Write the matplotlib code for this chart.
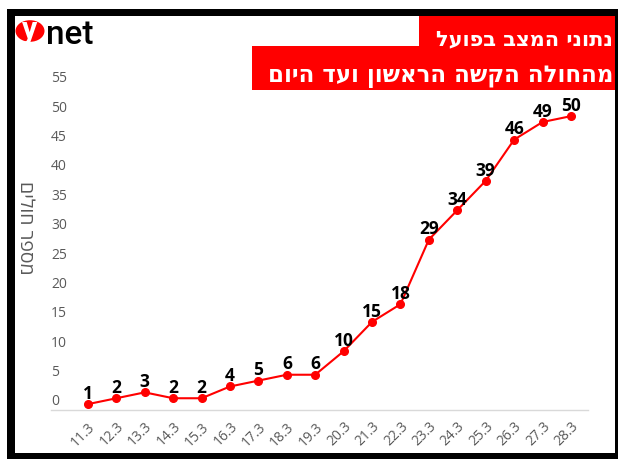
import matplotlib
matplotlib.use('Agg')
import matplotlib.pyplot as plt
from matplotlib.patches import Rectangle, Circle
from matplotlib.transforms import ScaledTranslation

dates = ['11.3', '12.3', '13.3', '14.3', '15.3', '16.3', '17.3', '18.3', '19.3',
         '20.3', '21.3', '22.3', '23.3', '24.3', '25.3', '26.3', '27.3', '28.3']
patients = [1, 2, 3, 2, 2, 4, 5, 6, 6, 10, 15, 18, 29, 34, 39, 46, 49, 50]
yticks = list(range(0, 56, 5))

title1 = 'נתוני המצב בפועל'
title2 = 'מהחולה הקשה הראשון ועד היום'
ylabel = 'מספר חולים'

W, H = 618, 460
fig = plt.figure(figsize=(W / 100, H / 100), dpi=100)

def box(x0, y0, x1, y1, color):
    # pixel coords, y from top
    fig.add_artist(Rectangle((x0 / W, 1 - y1 / H), (x1 - x0) / W, (y1 - y0) / H,
                             transform=fig.transFigure, color=color, lw=0))

ax = fig.add_axes([51 / W, (H - 411) / H, (588 - 51) / W, 335 / H])
x = list(range(len(dates)))
ax.plot(x, patients, color='#ff0000', lw=1.5, marker='o', ms=5.5, zorder=3)
for xi, v in zip(x, patients):
    ax.annotate(str(v), (xi, v), xytext=(0, 4.5), textcoords='offset points',
                ha='center', va='baseline', fontsize=12.5, fontweight='bold',
                family=['Open Sans', 'DejaVu Sans'], color='black')

ax.set_xlim(-1.3, 17.6)
ax.set_ylim(0, 57)
for s in ['top', 'right', 'left']:
    ax.spines[s].set_visible(False)
ax.spines['bottom'].set_color('#d9d9d9')
ax.spines['bottom'].set_linewidth(1)

ax.set_xticks(x)
ax.set_xticklabels(dates, rotation=45, ha='right', va='top', rotation_mode='anchor',
                   fontsize=10, color='#595959', family=['Open Sans', 'DejaVu Sans'])
ax.tick_params(axis='x', length=0, pad=6)

ax.set_yticks(yticks)
ax.set_yticklabels([str(t) for t in yticks], fontsize=10, color='#595959',
                   family=['Open Sans', 'DejaVu Sans'])
ax.tick_params(axis='y', length=0, pad=0)
off = ScaledTranslation(0, 0.11, fig.dpi_scale_trans)
for lab in ax.get_yticklabels():
    lab.set_ha('left')
    lab.set_transform(lab.get_transform() + off)

fig.text(25 / W, 1 - 228 / H, ylabel[::-1], rotation=270, ha='center', va='center',
         fontsize=14, color='#595959', family=['Open Sans', 'DejaVu Sans'])

# frame
box(7, 10, 618, 17, 'black')
box(7, 10, 15, 460, 'black')
box(7, 454, 618, 460, 'black')
box(615, 10, 618, 460, 'black')

# red banner
box(419, 17, 615, 47, '#ff0000')
box(252, 47, 615, 91, '#ff0000')
banner_font = ['DejaVu Sans Condensed', 'DejaVu Sans']
fig.text(613 / W, 1 - 45 / H, title1[::-1], ha='right', va='baseline', fontsize=15,
         fontweight='bold', color='white', family=banner_font)
fig.text(613 / W, 1 - 82 / H, title2[::-1], ha='right', va='baseline', fontsize=16.5,
         fontweight='bold', color='white', family=banner_font)

# logo
fig.add_artist(Circle((30 / W, 1 - 32 / H), 14.5 / W, transform=fig.transFigure,
                      color='#ff0000', lw=0))
fig.text(30 / W, 1 - 30 / H, 'y', ha='center', va='center', fontsize=22,
         color='white', family='Roboto', fontweight='bold')
fig.text(46 / W, 1 - 44 / H, 'net', ha='left', va='baseline', fontsize=24,
         color='black', family='Roboto', fontweight='medium')

fig.savefig('out.png', dpi=100)
